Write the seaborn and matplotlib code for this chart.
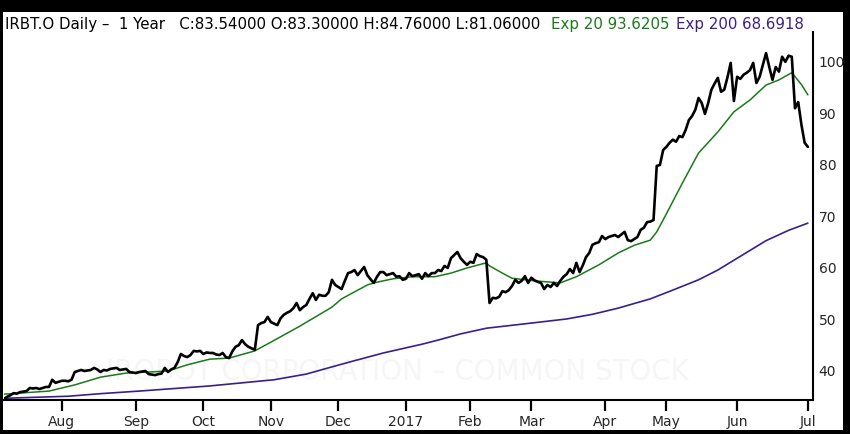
import matplotlib
matplotlib.use("Agg")
import matplotlib.pyplot as plt
from matplotlib.patches import Rectangle
import seaborn as sns
import pandas as pd

# daily closes, one per trading day (Jul 2016 - Jul 2017)
close = [
    34.6, 35.0, 35.3, 35.7, 35.6, 35.9, 36.0, 36.1, 36.7, 36.6,
    36.7, 36.5, 36.7, 36.9, 36.9, 38.3, 37.7, 37.9, 38.1, 38.1,
    38.0, 38.3, 39.8, 40.0, 40.2, 40.0, 40.1, 40.2, 40.6, 40.3,
    39.8, 40.2, 40.1, 40.4, 40.5, 40.6, 40.2, 40.3, 40.4, 39.8,
    39.7, 39.6, 39.8, 39.9, 40.0, 39.4, 39.3, 39.2, 39.4, 39.5,
    40.6, 39.8, 40.3, 40.6, 41.7, 43.3, 42.9, 42.7, 43.1, 43.9,
    43.8, 43.9, 43.3, 43.6, 43.5, 43.5, 43.2, 43.1, 43.5, 42.7,
    42.5, 43.8, 44.7, 45.0, 46.0, 45.2, 44.7, 44.4, 44.1, 48.9,
    49.3, 49.5, 50.5, 49.5, 49.2, 48.9, 50.2, 50.9, 51.3, 51.6,
    52.2, 53.2, 51.8, 52.4, 52.8, 54.0, 55.1, 53.8, 54.8, 54.6,
    54.6, 55.3, 57.7, 56.7, 56.3, 55.9, 57.5, 59.0, 59.2, 59.6,
    58.6, 59.4, 60.2, 58.6, 57.8, 57.1, 58.3, 59.2, 59.2, 58.6,
    58.8, 59.0, 58.3, 58.4, 57.7, 57.9, 59.0, 58.4, 58.6, 58.8,
    57.9, 59.0, 58.4, 59.0, 59.0, 59.6, 59.4, 60.4, 60.0, 61.9,
    62.5, 63.1, 61.9, 61.2, 60.6, 61.2, 61.0, 62.7, 62.3, 62.1,
    61.6, 53.2, 54.2, 54.1, 54.4, 55.5, 55.3, 55.7, 56.5, 57.7,
    57.1, 57.5, 58.4, 57.1, 58.1, 57.6, 57.3, 57.1, 55.9, 56.7,
    56.3, 57.1, 56.5, 57.5, 58.3, 58.8, 59.8, 59.0, 61.0, 59.2,
    60.5, 62.1, 62.9, 64.5, 64.8, 65.0, 66.2, 65.6, 66.0, 66.2,
    66.4, 66.0, 66.5, 67.0, 65.4, 65.2, 65.6, 66.0, 67.4, 67.8,
    68.9, 69.0, 69.3, 79.8, 80.0, 82.9, 83.5, 84.3, 84.9, 84.5,
    85.6, 85.4, 86.8, 88.7, 89.5, 90.7, 93.0, 92.0, 89.9, 92.0,
    94.6, 95.8, 96.9, 94.2, 94.6, 97.0, 99.8, 92.4, 97.1, 96.7,
    97.5, 97.9, 98.4, 99.8, 95.9, 97.1, 99.4, 101.7, 99.0, 96.5,
    99.0, 98.1, 101.0, 100.0, 101.2, 101.0, 91.0, 92.2, 87.8, 84.3,
    83.5,
]

# 20-day exponential average, read at trading-day positions
ema20_day = [0, 14, 22, 30, 38, 45, 51, 57, 64, 70, 78, 83, 92, 102, 105, 113,
             115, 121, 127, 134, 139, 144, 150, 151, 155, 158, 165, 173, 178,
             185, 191, 196, 201, 203, 206, 211, 216, 222, 227, 232, 237, 241,
             245, 248, 250]
ema20_val = [35.5, 36.1, 37.3, 38.8, 39.6, 39.8, 40.0, 41.2, 42.3, 42.5, 43.9,
             45.6, 48.7, 52.4, 54.0, 56.7, 57.1, 57.9, 58.3, 58.3, 59.0, 60.0,
             61.0, 60.4, 59.0, 58.0, 57.5, 57.1, 58.3, 60.6, 62.9, 64.4, 65.4,
             67.0, 70.5, 76.5, 82.3, 86.4, 90.3, 92.6, 95.5, 96.5, 97.9, 95.6,
             93.6]

# 200-day exponential average
ema200_day = [0, 10, 20, 30, 42, 53, 64, 74, 84, 94, 102, 109, 118, 130, 135,
              142, 150, 157, 164, 175, 183, 191, 201, 208, 216, 222, 227, 232,
              237, 244, 250]
ema200_val = [34.7, 34.9, 35.1, 35.6, 36.1, 36.6, 37.1, 37.7, 38.3, 39.4, 40.8,
              42.0, 43.5, 45.2, 46.0, 47.2, 48.3, 48.8, 49.3, 50.1, 51.0, 52.2,
              54.0, 55.7, 57.7, 59.6, 61.5, 63.4, 65.3, 67.3, 68.7]

month_day = [18, 41, 62, 83, 104, 125, 145, 164, 187, 206, 228, 250]
month_lbl = ["Aug", "Sep", "Oct", "Nov", "Dec", "2017", "Feb", "Mar", "Apr",
             "May", "Jun", "Jul"]
y_ticks = [40, 50, 60, 70, 80, 90, 100]

GREEN = "#1a7a1a"
PURPLE = "#3a1f8c"

sns.set_style("white")
plt.rcParams["font.family"] = ["DejaVu Sans"]

fig = plt.figure(figsize=(8.5, 4.34), dpi=100)
fig.patch.set_facecolor("black")
fig.patches.append(Rectangle((3 / 850, 4 / 434), 840 / 850, 418 / 434,
                             transform=fig.transFigure, facecolor="white",
                             edgecolor="none", zorder=-10))

ax = fig.add_axes([4 / 850, 1 - 400 / 434, 809 / 850, 368 / 434])
ax.set_facecolor("white")

# faint watermark
ax.text(0.486, 0.075, "IROBOT CORPORATION \u2013 COMMON STOCK", transform=ax.transAxes,
        ha="center", va="center", fontsize=20, color="#f6f6f6", zorder=0)

price = pd.DataFrame({"day": range(len(close)), "close": close})
e20 = pd.DataFrame({"day": ema20_day, "val": ema20_val})
e200 = pd.DataFrame({"day": ema200_day, "val": ema200_val})

sns.lineplot(data=e200, x="day", y="val", ax=ax, color=PURPLE, lw=1.2)
sns.lineplot(data=e20, x="day", y="val", ax=ax, color=GREEN, lw=1.1)
sns.lineplot(data=price, x="day", y="close", ax=ax, color="black", lw=1.9)

ax.set_xlim(0, 251.6)
ax.set_ylim(34.37, 105.8)
ax.set_xlabel("")
ax.set_ylabel("")

for s in ["top", "left"]:
    ax.spines[s].set_visible(False)
for s in ["bottom", "right"]:
    ax.spines[s].set_color("black")
    ax.spines[s].set_linewidth(1.5)

ax.set_xticks(month_day)
ax.set_xticklabels(month_lbl)
ax.tick_params(axis="x", direction="out", length=8, width=1.6, color="black",
               labelsize=10, pad=3, bottom=True)
ax.yaxis.tick_right()
ax.set_yticks(y_ticks)
ax.tick_params(axis="y", length=0, labelsize=10, pad=4, right=True, left=False)

# header line
hy = 1 - 24 / 434
fig.text(5 / 850, hy, "IRBT.O Daily \u2013  1 Year   C:83.54000 O:83.30000 H:84.76000 L:81.06000",
         ha="left", va="center", fontsize=10.8, color="black")
fig.text(551 / 850, hy, "Exp 20 93.6205", ha="left", va="center", fontsize=10.8, color=GREEN)
fig.text(676 / 850, hy, "Exp 200 68.6918", ha="left", va="center", fontsize=10.8, color=PURPLE)

fig.savefig("out.png", dpi=100, facecolor=fig.get_facecolor())
